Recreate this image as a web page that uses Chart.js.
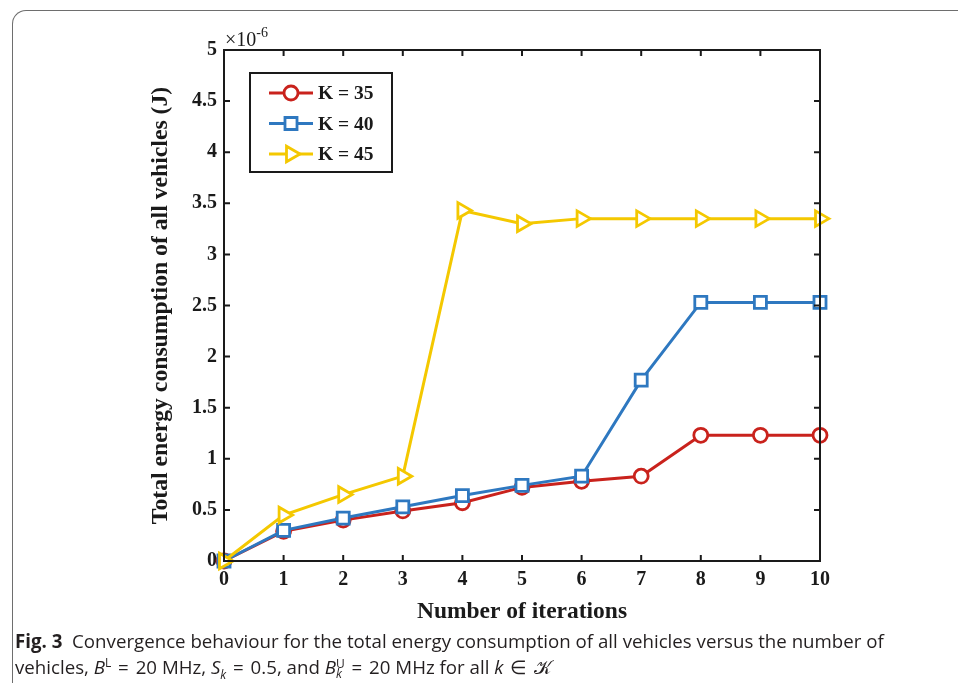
<!DOCTYPE html>
<html>
<head>
<meta charset="utf-8">
<script src="https://cdn.jsdelivr.net/npm/chart.js@4.4.1/dist/chart.umd.min.js"></script>
<style>
  html, body { margin: 0; padding: 0; background: #fff; }
  body { width: 958px; height: 683px; position: relative; overflow: hidden; }
  #frame { position: absolute; left: 12px; top: 10px; width: 1100px; height: 1100px;
           border-top: 1.5px solid #6e6e6e; border-left: 1.5px solid #6e6e6e; border-top-left-radius: 14px; }
  #wrap { position: absolute; left: 0; top: 0; width: 958px; height: 683px; }
  #caption { position: absolute; left: 15px; top: 628px; font-family: "Open Sans", "Noto Sans", sans-serif;
             font-size: 18.7px; line-height: 26px; color: #231f20; white-space: nowrap; }
  #caption b { font-weight: 700; }
  #caption i { font-style: italic; }
  .ss { display: inline-block; vertical-align: middle; line-height: 10px; font-size: 12px; text-align: left; }
  sup, sub { font-size: 12px; line-height: 0; }
  .eq { padding: 0 2px; }
</style>
</head>
<body>
<div id="frame"></div>
<div id="wrap"><canvas id="chart" width="958" height="683"></canvas></div>
<div id="caption"><b>Fig. 3</b>&nbsp; Convergence behaviour for the total energy consumption of all vehicles versus the number of<br>vehicles, <i>B</i><sup>L</sup> <span class="eq">=</span> 20 MHz, <i>S<sub>k</sub></i> <span class="eq">=</span> 0.5, and <i>B</i><span class="ss">U<br><i>k</i></span> <span class="eq">=</span> 20 MHz for all <i>k</i> <span class="eq">∈</span> 𝒦</div>
<script>
'use strict'

var iterations = ['0', '1', '2', '3', '4', '5', '6', '7', '8', '9', '10']
var k35 = [0, 0.29, 0.40, 0.49, 0.57, 0.72, 0.78, 0.83, 1.23, 1.23, 1.23]
var k40 = [0, 0.30, 0.42, 0.53, 0.64, 0.74, 0.83, 1.77, 2.53, 2.53, 2.53]
var k45 = [0, 0.45, 0.65, 0.83, 3.43, 3.30, 3.35, 3.35, 3.35, 3.35, 3.35]
var seriesLabels = ['K = 35', 'K = 40', 'K = 45']
var yTicks = [0, 0.5, 1, 1.5, 2, 2.5, 3, 3.5, 4, 4.5, 5]

var serif = '"Liberation Serif", "Times New Roman", serif'
var colors = ['#c9221c', '#2e78c0', '#f4c800']
var styles = ['circle', 'rect', 'triangle']

function makeSet(i, data, radius, rot, order) {
    return {
        label: seriesLabels[i],
        data: data,
        borderColor: colors[i],
        backgroundColor: '#ffffff',
        borderWidth: 3,
        pointStyle: styles[i],
        pointRadius: radius,
        pointRotation: rot,
        pointBorderWidth: 2.8,
        pointBackgroundColor: '#ffffff',
        pointBorderColor: colors[i],
        tension: 0,
        clip: false,
        order: order
    }
}

// axes box, inward ticks, exponent and legend
var extras = {
    id: 'extras',
    afterDatasetsDraw: function(chart) {
        var ctx = chart.ctx
        var a = chart.chartArea
        var xs = chart.scales.x, ys = chart.scales.y
        var tl = 6
        ctx.save()
        ctx.strokeStyle = '#1a1a1a'
        ctx.lineWidth = 2
        ctx.strokeRect(a.left, a.top, a.right - a.left, a.bottom - a.top)
        ctx.beginPath()
        for (var i = 0; i < iterations.length; i++) {
            var px = xs.getPixelForValue(i)
            ctx.moveTo(px, a.bottom); ctx.lineTo(px, a.bottom - tl)
            ctx.moveTo(px, a.top); ctx.lineTo(px, a.top + tl)
        }
        for (var j = 0; j < yTicks.length; j++) {
            var py = ys.getPixelForValue(yTicks[j])
            ctx.moveTo(a.left, py); ctx.lineTo(a.left + tl, py)
            ctx.moveTo(a.right, py); ctx.lineTo(a.right - tl, py)
        }
        ctx.stroke()

        // exponent label
        ctx.fillStyle = '#1a1a1a'
        ctx.textBaseline = 'alphabetic'
        ctx.textAlign = 'left'
        ctx.font = '20px ' + serif
        ctx.fillText('\u00d710', a.left + 1, a.top - 4)
        var w = ctx.measureText('\u00d710').width
        ctx.font = '14px ' + serif
        ctx.fillText('-6', a.left + 1 + w, a.top - 13)

        // legend
        var lx = 250, ly = 73, lw = 142, lh = 99
        ctx.fillStyle = '#ffffff'
        ctx.fillRect(lx, ly, lw, lh)
        ctx.strokeStyle = '#1a1a1a'
        ctx.lineWidth = 2
        ctx.strokeRect(lx, ly, lw, lh)
        chart.data.datasets.forEach(function(ds, k) {
            var yy = ly + 20 + k * 30.5
            ctx.strokeStyle = ds.borderColor
            ctx.lineWidth = ds.borderWidth
            ctx.beginPath()
            ctx.moveTo(lx + 19, yy); ctx.lineTo(lx + 63, yy)
            ctx.stroke()
            ctx.lineWidth = ds.pointBorderWidth
            ctx.fillStyle = '#ffffff'
            Chart.helpers.drawPoint(ctx, {
                pointStyle: ds.pointStyle, rotation: ds.pointRotation,
                radius: ds.pointRadius, borderWidth: ds.pointBorderWidth
            }, lx + 41, yy)
            ctx.fillStyle = '#1a1a1a'
            ctx.font = 'bold 19.5px ' + serif
            ctx.textBaseline = 'middle'
            ctx.fillText(ds.label, lx + 68, yy + 1)
        })
        ctx.restore()
    }
}

new Chart(document.getElementById('chart'), {
    type: 'line',
    data: {
        labels: iterations,
        datasets: [
            makeSet(0, k35, 7, 0, 2),
            makeSet(1, k40, 8.5, 0, 1),
            makeSet(2, k45, 9, 90, 0)
        ]
    },
    options: {
        responsive: false,
        animation: false,
        events: [],
        layout: { padding: { left: 143, top: 50, right: 138, bottom: 53 } },
        plugins: { legend: { display: false }, tooltip: { enabled: false } },
        scales: {
            x: {
                type: 'category',
                offset: false,
                grid: { display: false, drawTicks: false },
                border: { display: false },
                ticks: { color: '#1a1a1a', padding: 7, maxRotation: 0, autoSkip: false,
                         font: { family: serif, size: 20, weight: 'bold' } },
                title: { display: true, text: 'Number of iterations', color: '#1a1a1a',
                         font: { family: serif, size: 23.5, weight: 'bold' } },
                afterFit: function(s) { s.height = 69 }
            },
            y: {
                min: 0, max: 5,
                afterBuildTicks: function(s) { s.ticks = yTicks.map(function(v) { return { value: v } }) },
                grid: { display: false, drawTicks: false },
                border: { display: false },
                ticks: { color: '#1a1a1a', padding: 7,
                         callback: function(v) { return String(v) },
                         font: { family: serif, size: 20, weight: 'bold' } },
                title: { display: true, text: 'Total energy consumption of all vehicles (J)', color: '#1a1a1a',
                         font: { family: serif, size: 23.7, weight: 'bold' } },
                afterFit: function(s) { s.width = 81 }
            }
        }
    },
    plugins: [extras]
})
</script>
</body>
</html>
